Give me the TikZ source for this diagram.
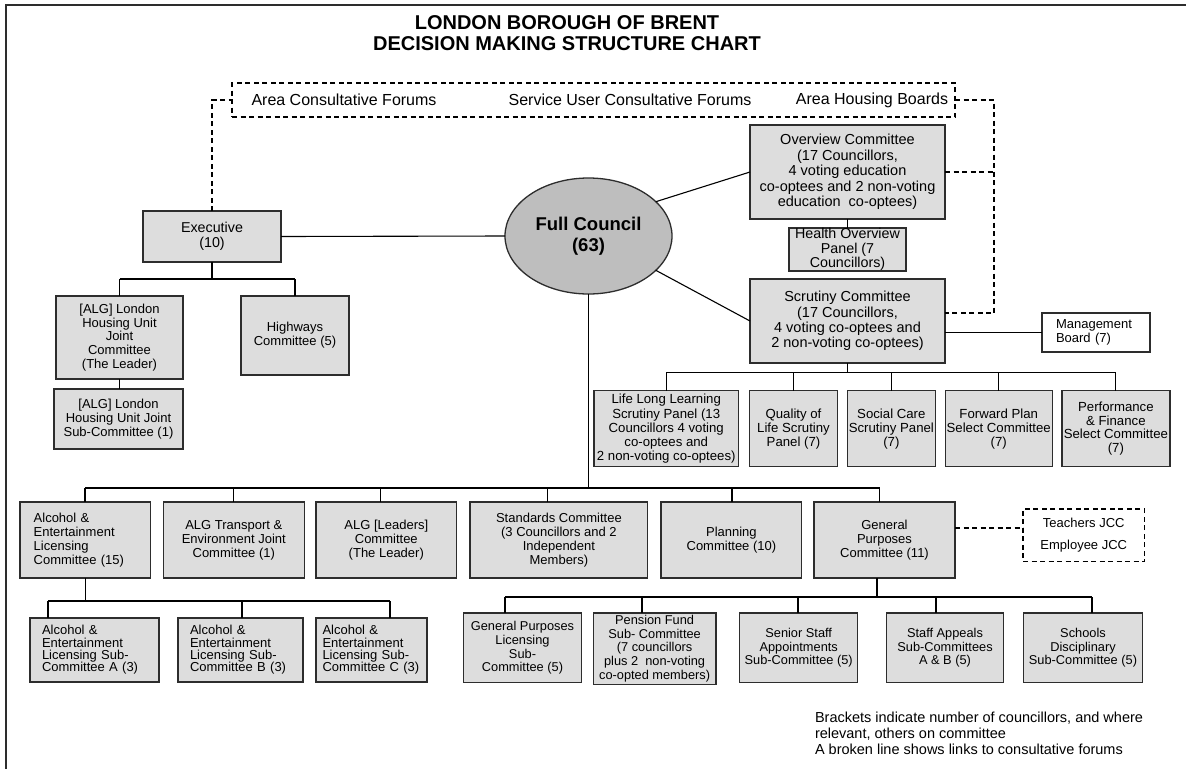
\documentclass[tikz,border=0pt]{standalone}
\usepackage{fontspec}
\setmainfont{Liberation Sans}
\usetikzlibrary{shapes.geometric}
\definecolor{boxgray}{RGB}{221,221,221}
\definecolor{fcgray}{RGB}{190,190,190}
\definecolor{edge}{RGB}{45,45,45}
\newcommand\fsz[2]{\fontsize{#1}{#2}\selectfont}
\begin{document}
\begin{tikzpicture}[x=1pt,y=-1pt,
  box/.style={draw=edge, fill=boxgray, line width=1.3pt, inner sep=0pt, outer sep=0pt, align=center, font=\fsz{13}{14.2}},
  wbox/.style={box, fill=white},
  conn/.style={draw=black, line width=1.1pt},
  dashconn/.style={draw=black, line width=1.1pt, dash pattern=on 5pt off 3.5pt},
  lbl/.style={inner sep=0pt, outer sep=0pt}
]
\useasboundingbox (0,0) rectangle (1186,769);
% frame
\draw[draw=edge, line width=1.8pt] (1186,5) -- (6,5) -- (6,769);
% title
\node[lbl, font=\fsz{20}{21.5}\bfseries, align=center] (title) at (567,33) {LONDON BOROUGH OF BRENT\\DECISION MAKING STRUCTURE CHART};
% forums
\node[dashconn, draw, fill=none, minimum width=723, minimum height=34, inner sep=0pt, outer sep=0pt] (forum) at (593.5,100) {};
\node[lbl, font=\fsz{16}{18}] (acf) at (344,100) {Area Consultative Forums};
\node[lbl, font=\fsz{16}{18}] (sucf) at (630,100) {Service User Consultative Forums};
\node[lbl, font=\fsz{16}{18}] (ahb) at (872,100) {Area Housing Boards};
% central
\node[ellipse, draw=edge, fill=fcgray, line width=1.3pt, minimum width=167, minimum height=116, inner sep=0pt, outer sep=0pt, align=center, font=\fsz{18.5}{21.3}\bfseries] (fc) at (588.5,236) {Full Council\\(63)};
\node[box, minimum width=138, minimum height=51, font=\fsz{14.3}{15.3}] (ex) at (212,236.5) {Executive\\(10)};
\node[box, minimum width=195, minimum height=94, font=\fsz{14.5}{15.4}] (ov) at (847.5,172) {Overview Committee\\(17 Councillors,\\4 voting education\\co-optees and 2 non-voting\\education\ \ co-optees)};
\node[box, minimum width=117, minimum height=43, font=\fsz{14.3}{14.4}] (ho) at (847.5,249.5) {Health Overview\\Panel (7\\Councillors)};
\node[box, minimum width=195, minimum height=84, font=\fsz{14.5}{15.4}] (sc) at (847.5,321) {Scrutiny Committee\\(17 Councillors,\\4 voting co-optees and\\2 non-voting co-optees)};
\node[wbox, minimum width=108, minimum height=39, align=left, text width=80, font=\fsz{13}{13.6}] (mb) at (1096,332.5) {Management\\Board (7)};
% scrutiny panels
\node[box, minimum width=144.5, minimum height=76, font=\fsz{13.2}{14.1}] (lll) at (666.25,428.7) {Life Long Learning\\Scrutiny Panel (13\\Councillors 4 voting\\co-optees and\\2 non-voting co-optees)};
\node[box, minimum width=88, minimum height=76, font=\fsz{13.2}{14.1}] (qol) at (793.5,428.7) {Quality of\\Life Scrutiny\\Panel (7)};
\node[box, minimum width=88, minimum height=76, font=\fsz{13.2}{14.1}] (soc) at (891.35,428.7) {Social Care\\Scrutiny Panel\\(7)};
\node[box, minimum width=107, minimum height=76, font=\fsz{13.2}{14.1}] (fwd) at (998.7,428.7) {Forward Plan\\Select Committee\\(7)};
\node[box, minimum width=108, minimum height=76, font=\fsz{13.2}{13.6}] (pf) at (1115.9,428.7) {Performance\\\& Finance\\Select Committee\\(7)};
% executive subtree
\node[box, minimum width=127, minimum height=83, font=\fsz{13}{13.8}] (alg) at (119.5,337.5) {[ALG] London\\Housing Unit\\Joint\\Committee\\(The Leader)};
\node[box, minimum width=108, minimum height=79, font=\fsz{13}{13.8}] (hw) at (295,335.5) {Highways\\Committee (5)};
\node[box, minimum width=129, minimum height=60, font=\fsz{13}{14.3}] (sub) at (118.5,419) {[ALG] London\\Housing Unit Joint\\Sub-Committee (1)};
% main row
\node[box, minimum width=130.4, minimum height=76, align=left, text width=103] (alc) at (85.2,540) {Alcohol \&\\Entertainment\\Licensing\\Committee (15)};
\node[box, minimum width=140.8, minimum height=76] (algt) at (233.8,540) {ALG Transport \&\\Environment Joint\\Committee (1)};
\node[box, minimum width=140.6, minimum height=76] (algl) at (386.3,540) {ALG [Leaders]\\Committee\\(The Leader)};
\node[box, minimum width=177.8, minimum height=76] (std) at (558.9,540) {Standards Committee\\(3 Councillors and 2\\Independent\\Members)};
\node[box, minimum width=140.8, minimum height=76] (pln) at (731.4,540) {Planning\\Committee (10)};
\node[box, minimum width=141, minimum height=76] (gp) at (884.5,540) {General\\Purposes\\Committee (11)};
\node[wbox, dashconn, draw, minimum width=121.5, minimum height=52.7, font=\fsz{13}{22}] (jcc) at (1083.75,535.3) {Teachers JCC\\Employee JCC};
% alcohol sub-committees
\node[box, minimum width=129, minimum height=64, align=left, text width=105, font=\fsz{13}{12.4}] (alca) at (94.5,650) {Alcohol \&\\Entertainment\\Licensing Sub-\\Committee A (3)};
\node[box, minimum width=125, minimum height=64, align=left, text width=101, font=\fsz{13}{12.4}] (alcb) at (240.5,650) {Alcohol \&\\Entertainment\\Licensing Sub-\\Committee B (3)};
\node[box, minimum width=111, minimum height=64, align=left, text width=98, font=\fsz{13}{12.4}] (alcc) at (371.5,650) {Alcohol \&\\Entertainment\\Licensing Sub-\\Committee C (3)};
% general purposes sub-committees
\node[box, minimum width=117.5, minimum height=69.5, font=\fsz{12.8}{13.8}] (gpl) at (522.5,647.8) {General Purposes\\Licensing\\Sub-\\Committee (5)};
\node[box, minimum width=122.8, minimum height=71.3, font=\fsz{12.8}{13.6}] (pen) at (654.6,648.6) {Pension Fund\\Sub- Committee\\(7 councillors\\plus 2\ \ non-voting\\co-opted members)};
\node[box, minimum width=118, minimum height=69.5, font=\fsz{12.8}{13.8}] (ssa) at (798.7,647.8) {Senior Staff\\Appointments\\Sub-Committee (5)};
\node[box, minimum width=117.5, minimum height=69.5, font=\fsz{12.8}{13.8}] (sap) at (945,647.8) {Staff Appeals\\Sub-Committees\\A \& B (5)};
\node[box, minimum width=119.4, minimum height=69.5, font=\fsz{12.8}{13.8}] (sdc) at (1083,647.8) {Schools\\Disciplinary\\Sub-Committee (5)};
% footnote
\node[lbl, anchor=north west, align=left, font=\fsz{14.5}{16.2}] (note) at (815,712) {Brackets indicate number of councillors, and where\\relevant, others on committee\\A broken line shows links to consultative forums};

% ---- connectors ----
\draw[dashconn] (ex.north) |- (forum.west);
\coordinate (dr) at (994,313);
\draw[dashconn] (forum.east) -| (dr) -- (dr -| sc.east);
\draw[dashconn] (ov.east) -- (ov.east -| dr);
\draw[conn] (ex.east) -- (fc.west);
\draw[conn] (fc.27) -- (ov.west);
\draw[conn] (fc.-27) -- (sc.west);
\draw[conn] (ov.south) -- (ho.north);
\draw[conn] (sc.east |- mb.west) -- (mb.west);
% scrutiny panels
\coordinate (pbus) at (0,372.7);
\draw[conn] (sc.south) -- (sc.south |- pbus);
\draw[conn] (lll.north |- pbus) -- (pf.north |- pbus);
\foreach \n in {lll,qol,soc,fwd,pf} \draw[conn] (\n.north |- pbus) -- (\n.north);
% executive
\coordinate (ebus) at (0,279);
\draw[conn] (ex.south) -- (ex.south |- ebus);
\draw[conn] (alg.north |- ebus) -- (hw.north |- ebus);
\draw[conn] (alg.north |- ebus) -- (alg.north);
\draw[conn] (hw.north |- ebus) -- (hw.north);
\draw[conn] (alg.south) -- (alg.south |- sub.north);
% main bus
\coordinate (m1) at (85,488);
\coordinate (m2) at (233.5,488);
\coordinate (m3) at (380.8,488);
\coordinate (m4) at (547.3,488);
\coordinate (m5) at (732,488);
\coordinate (m6) at (879.5,488);
\draw[conn] (fc.south) -- (fc.south |- m1);
\draw[conn] (m1) -- (m6);
\draw[conn] (m1) -- (m1 |- alc.north);
\draw[conn] (m2) -- (m2 |- algt.north);
\draw[conn] (m3) -- (m3 |- algl.north);
\draw[conn] (m4) -- (m4 |- std.north);
\draw[conn] (m5) -- (m5 |- pln.north);
\draw[conn] (m6) -- (m6 |- gp.north);
\draw[dashconn] (gp.east |- 0,528) -- (jcc.west |- 0,528);
% alcohol subtree
\coordinate (a1) at (48,601);
\coordinate (a2) at (242,601);
\coordinate (a3) at (390,601);
\draw[conn] (alc.south) -- (alc.south |- a1);
\draw[conn] (a1) -- (a3);
\draw[conn] (a1) -- (a1 |- alca.north);
\draw[conn] (a2) -- (a2 |- alcb.north);
\draw[conn] (a3) -- (a3 |- alcc.north);
% general purposes subtree
\coordinate (gd) at (877,597);
\coordinate (g1) at (505,597);
\coordinate (g2) at (642,597);
\coordinate (g3) at (798,597);
\coordinate (g4) at (936,597);
\coordinate (g5) at (1092,597);
\draw[conn] (gd |- gp.south) -- (gd);
\draw[conn] (g1) -- (g5);
\draw[conn] (g1) -- (g1 |- gpl.north);
\draw[conn] (g2) -- (g2 |- pen.north);
\draw[conn] (g3) -- (g3 |- ssa.north);
\draw[conn] (g4) -- (g4 |- sap.north);
\draw[conn] (g5) -- (g5 |- sdc.north);
\end{tikzpicture}
\end{document}
